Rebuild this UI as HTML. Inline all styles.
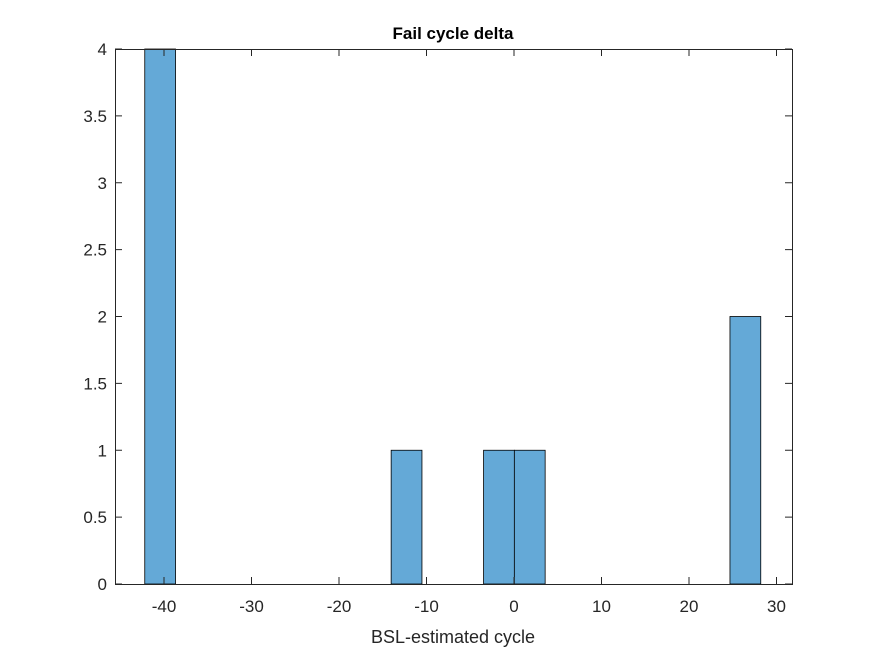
<!DOCTYPE html>
<html><head><meta charset="utf-8">
<style>
body{margin:0;background:#fff;}
svg text{font-family:"Liberation Sans",Arial,sans-serif;}
</style></head>
<body>
<svg id="chart" width="875" height="656">
<rect x="0" y="0" width="875" height="656" fill="#fff"/>
<rect x="115" y="49" width="677" height="535" fill="#fff"/>
<g id="bars"></g>
<g id="axes"></g>
<text x="453" y="39" text-anchor="middle" font-size="17" font-weight="bold" fill="#000">Fail cycle delta</text>
<text x="453" y="643" text-anchor="middle" font-size="18" fill="#262626">BSL-estimated cycle</text>
</svg>
<script>
const binEdges=[-42.2,-38.68,-35.16,-31.64,-28.12,-24.6,-21.08,-17.56,-14.04,-10.52,-7,-3.48,0.04,3.56,7.08,10.6,14.12,17.64,21.16,24.68,28.2];
const binCounts=[4,0,0,0,0,0,0,0,1,0,0,1,1,0,0,0,0,0,0,2];
const xTicks=[-40,-30,-20,-10,0,10,20,30];
const yTicks=[0,0.5,1,1.5,2,2.5,3,3.5,4];
const L=115,R=792,T=49,B=584,xmin=-45.6,xmax=31.77,ymin=0,ymax=4;
const NS="http://www.w3.org/2000/svg";
const xs=v=>L+(v-xmin)/(xmax-xmin)*(R-L);
const ys=v=>B-(v-ymin)/(ymax-ymin)*(B-T);
const bars=document.getElementById('bars');
binCounts.forEach((c,i)=>{
  if(c<=0)return;
  const r=document.createElementNS(NS,'rect');
  r.setAttribute('x',xs(binEdges[i]));
  r.setAttribute('y',ys(c));
  r.setAttribute('width',xs(binEdges[i+1])-xs(binEdges[i]));
  r.setAttribute('height',ys(0)-ys(c));
  r.setAttribute('fill','#64a9d7');
  r.setAttribute('stroke','#000');
  r.setAttribute('stroke-width','0.8');
  
  
  bars.appendChild(r);
});
const ax=document.getElementById('axes');
function el(tag,attrs){const e=document.createElementNS(NS,tag);for(const k in attrs)e.setAttribute(k,attrs[k]);ax.appendChild(e);return e;}
const box=el('rect',{x:L+0.5,y:T+0.5,width:R-L,height:B-T,fill:'none',stroke:'#262626','stroke-width':1});


xTicks.forEach(t=>{
  const x=xs(t);
  el('line',{x1:x,x2:x,y1:B,y2:B-7,stroke:'#262626'});
  el('line',{x1:x,x2:x,y1:T,y2:T+7,stroke:'#262626'});
  const tx=el('text',{x:x,y:B+28,'text-anchor':'middle','font-size':17,fill:'#262626'});
  tx.textContent=t;
  
  
});
yTicks.forEach(t=>{
  const y=ys(t);
  el('line',{x1:L,x2:L+7,y1:y,y2:y,stroke:'#262626'});
  el('line',{x1:R,x2:R-7,y1:y,y2:y,stroke:'#262626'});
  const tx=el('text',{x:L-8,y:y+6,'text-anchor':'end','font-size':17,fill:'#262626'});
  tx.textContent=t;
  
  
});
</script>
</body></html>
